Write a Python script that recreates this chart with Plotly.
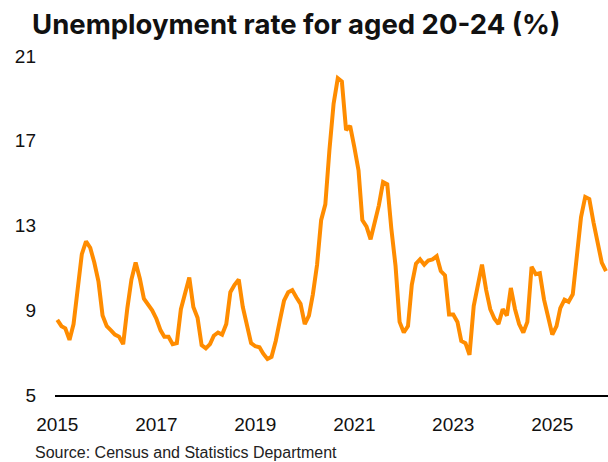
import pandas as pd
import plotly.graph_objects as go

# Monthly unemployment rate, aged 20-24 (%), Jan 2015 onwards
start_month = "2015-01-01"
rate = [
    8.55, 8.25, 8.15, 7.6, 8.35, 10.05, 11.65, 12.25, 11.95, 11.25, 10.35, 8.75,   # 2015
    8.25, 8.05, 7.85, 7.75, 7.4, 9.1, 10.45, 11.25, 10.5, 9.55, 9.25, 9.0,         # 2016
    8.6, 8.05, 7.75, 7.75, 7.4, 7.45, 9.05, 9.85, 10.55, 9.15, 8.65, 7.35,         # 2017
    7.2, 7.4, 7.8, 7.95, 7.85, 8.35, 9.85, 10.2, 10.45, 9.15, 8.2, 7.45,           # 2018
    7.3, 7.25, 6.95, 6.7, 6.8, 7.55, 8.5, 9.45, 9.85, 9.95, 9.6, 9.3,              # 2019
    8.35, 8.75, 9.75, 11.15, 13.25, 14.0, 16.55, 18.75, 19.95, 19.8, 17.5, 17.7,   # 2020
    16.7, 15.6, 13.25, 12.95, 12.35, 13.15, 13.95, 15.05, 14.95, 12.85, 11.1, 8.45,  # 2021
    7.95, 8.25, 10.2, 11.2, 11.4, 11.15, 11.35, 11.4, 11.55, 10.85, 10.65, 8.8,    # 2022
    8.8, 8.45, 7.55, 7.45, 6.9, 9.2, 10.15, 11.15, 9.95, 9.05, 8.6, 8.35,          # 2023
    9.05, 8.75, 10.05, 9.05, 8.35, 7.95, 8.45, 11.05, 10.7, 10.75, 9.5, 8.6,       # 2024
    7.85, 8.25, 9.1, 9.5, 9.4, 9.75, 11.6, 13.4, 14.35, 14.25, 13.15, 12.2,        # 2025
    11.25, 10.85,                                                                   # 2026
]
months = pd.date_range(start_month, periods=len(rate), freq="MS")

y_ticks = [5, 9, 13, 17, 21]

title_text = "Unemployment rate for aged 20-24 (%)"
source_text = "Source: Census and Statistics Department"

fig = go.Figure(
    go.Scatter(
        x=months,
        y=rate,
        mode="lines",
        line=dict(color="#FF8C00", width=4),
        hoverinfo="x+y",
    )
)

fig.update_layout(
    width=608,
    height=462,
    margin=dict(l=55, r=0, t=56, b=67),
    paper_bgcolor="white",
    plot_bgcolor="white",
    showlegend=False,
    title=dict(
        text=f"<b>{title_text}</b>",
        font=dict(family="Inter, Roboto, sans-serif", size=27.5, color="#111111"),
        xref="container",
        yref="container",
        x=32 / 608,
        xanchor="left",
        y=1 - 24 / 462,
        yanchor="middle",
    ),
    annotations=[
        dict(
            text=source_text,
            xref="paper",
            yref="paper",
            x=(33 - 55) / 553,
            y=(395 - 452) / 339,
            xanchor="left",
            yanchor="middle",
            showarrow=False,
            font=dict(family="Liberation Sans, Arial, sans-serif", size=16, color="#222222"),
        )
    ],
)

fig.update_xaxes(
    type="date",
    range=["2014-12-15", "2026-02-16"],
    tick0="2015-01-01",
    dtick="M24",
    tickformat="%Y",
    showgrid=False,
    zeroline=False,
    showline=True,
    linecolor="black",
    linewidth=2,
    ticks="",
    ticklabelstandoff=11,
    tickfont=dict(family="Liberation Sans, Arial, sans-serif", size=19, color="#111111"),
)

fig.update_yaxes(
    range=[5, 21],
    tickvals=y_ticks,
    ticktext=[str(v) for v in y_ticks],
    showgrid=False,
    zeroline=False,
    showline=False,
    ticks="",
    ticklabelstandoff=18,
    tickfont=dict(family="Liberation Sans, Arial, sans-serif", size=19, color="#111111"),
)

fig.write_html("out.html")
